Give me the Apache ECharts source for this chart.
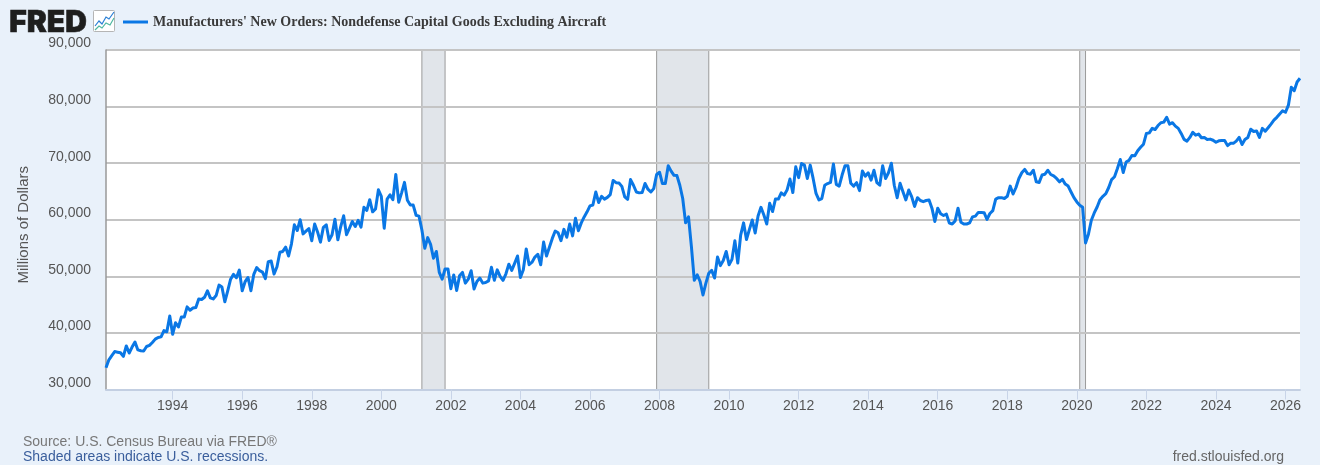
<!DOCTYPE html>
<html>
<head>
<meta charset="utf-8">
<style>html,body{margin:0;padding:0;background:#e9f1fa;}#c{width:1320px;height:465px;}</style>
<script src="https://cdn.jsdelivr.net/npm/echarts@6/dist/echarts.min.js"></script>
</head>
<body>
<div id="c"></div>
<script>
var seriesName = "Manufacturers' New Orders: Nondefense Capital Goods Excluding Aircraft";
var firstYear = 1992, firstMonth = 2;
var orders = [
33840,35250,36000,36700,36600,36500,35850,37700,36450,37500,38400,
37000,36850,36800,37600,37800,38300,38900,39200,39300,40400,40200,43000,
39750,41800,41050,42800,42800,44600,44000,44400,44500,46000,45900,46300,
47450,46200,46000,46600,48450,48100,45500,47450,49500,50350,49750,51100,
47450,49050,49800,47450,50350,51550,51000,50750,49600,52600,52700,50400,
51700,54250,54400,55150,53600,55750,59100,58100,60000,57500,58000,58450,
56300,59250,57850,56050,58650,59100,56350,57350,60100,56450,58800,60700,
57350,58500,59700,58800,59900,58700,62200,61650,63550,61400,61900,65300,
64150,58500,63650,64400,63550,68000,63100,64750,66600,63450,62600,62600,
60800,60650,58200,54950,56850,55650,53200,54400,50700,49500,51300,51300,
47800,50250,47500,50100,50700,48800,49500,51000,47750,49100,49700,48800,
48900,49200,51600,49300,51150,50000,49300,50450,52150,51050,52300,53600,
49800,51150,54850,52050,52500,53400,53900,52050,56050,53600,55150,56700,
58000,57700,56300,58300,56900,59250,57150,60250,58050,59450,60500,61400,
62450,62600,64900,63050,64150,63650,63950,64450,66950,66550,66500,65900,
64050,63600,67100,66100,64900,64750,64800,66400,65400,64900,65500,68000,
68400,66400,66400,69550,68600,67850,67800,66100,63750,59450,60500,55250,
49300,50250,49100,46700,48800,50550,51050,49700,53400,51900,52800,54400,
52050,53000,56300,52350,57300,59450,56500,58250,59950,57650,60650,62200,
60850,59250,62900,61450,63650,63650,64750,64350,65250,67200,64800,69350,
67450,69950,69650,67300,69650,67300,64650,63500,63750,66100,66400,66600,
69850,66250,65950,67900,69550,69550,66450,65950,66550,65150,68600,67700,
68300,67000,68750,66550,66100,69550,67300,68300,70000,66100,63900,66450,
64950,63500,65250,64100,62350,63900,63400,63200,63400,63500,62050,59700,
62050,61050,60750,61000,59400,59250,59800,62050,59550,59250,59250,59450,
60500,60650,61300,61300,61250,60050,61100,61600,63650,63900,63900,63750,
64150,65950,64550,65700,67300,68300,68900,68150,68050,68750,66700,66600,
67900,68050,68750,68000,67750,67300,66700,67150,66300,65950,64900,63900,
63150,62550,62200,55900,57450,59900,61200,62250,63550,64150,64600,65700,
67100,67600,69050,70650,68350,70200,70500,71350,71300,72200,72800,73350,
75250,75350,76150,75950,76650,77150,77250,78100,76900,77150,76550,76150,
75250,74200,73900,74550,75450,74950,75150,74500,74550,74200,74250,74050,
73700,73950,74000,74000,73100,73500,73500,73900,74550,73300,74200,74550,
76000,75600,75700,74550,76150,75650,76250,76900,77600,78100,78700,79250,
79000,80250,83400,82800,84350,85000
];
var recessions = [["2001-03","2001-11"],["2007-12","2009-06"],["2020-02","2020-04"]];
var yMin = 30000, yMax = 90000, yStep = 10000;
var labelEveryYears = 2;
var sourceText = "Source: U.S. Census Bureau via FRED\u00AE";
var shadeText = "Shaded areas indicate U.S. recessions.";
var siteText = "fred.stlouisfed.org";
var yAxisTitle = "Millions of Dollars";

var months = orders.map(function(_, i){
  var t = firstYear*12 + firstMonth - 1 + i;
  var m = t % 12 + 1;
  return Math.floor(t/12) + "-" + (m < 10 ? "0" : "") + m;
});
function yearTick(i, v){
  return v.slice(5) === "01" && parseInt(v, 10) % labelEveryYears === 0;
}
var chart = echarts.init(document.getElementById("c"), null, {renderer:"canvas"});
chart.setOption({
  animation:false,
  backgroundColor:"#e9f1fa",
  textStyle:{fontFamily:"'Liberation Sans',Arial,sans-serif"},
  grid:{left:106,right:20,top:50,height:339.5,show:true,backgroundColor:"#ffffff",borderWidth:0},
  legend:{
    left:118,top:10,itemWidth:25,itemHeight:3,itemGap:0,padding:[5,5,5,5],
    icon:"rect",
    data:[seriesName],
    textStyle:{fontFamily:"'Liberation Serif',serif",fontWeight:"bold",fontSize:14,color:"#3a3a3a"}
  },
  xAxis:{
    type:"category",data:months,boundaryGap:false,z:1,
    axisLine:{lineStyle:{color:"#c3cfe2",width:2}},
    axisTick:{interval:yearTick,length:10,lineStyle:{color:"#c8d4e8",width:1}},
    axisLabel:{interval:yearTick,margin:10,fontSize:14,color:"#555555",hideOverlap:false,showMaxLabel:true,showMinLabel:true,
      fontFamily:"'Liberation Sans',Arial,sans-serif",
      formatter:function(v){return v.slice(0,4);}},
    splitLine:{show:false}
  },
  yAxis:{
    type:"value",min:yMin,max:yMax,interval:yStep,z:1,
    name:yAxisTitle,nameLocation:"middle",nameGap:75,
    nameTextStyle:{fontSize:15,color:"#555555",padding:[0,10,0,0],fontFamily:"'Liberation Sans',Arial,sans-serif"},
    axisLine:{show:true,lineStyle:{color:"#999999",width:1.5}},
    axisTick:{show:false},
    axisLabel:{margin:15,fontSize:14,color:"#555555",verticalAlign:"bottom",lineHeight:13,
      fontFamily:"'Liberation Sans',Arial,sans-serif",
      formatter:function(v){return v.toLocaleString("en-US");}},
    splitLine:{lineStyle:{color:"#c4c4c4",width:2}}
  },
  series:[
    {
      type:"line",name:"recessions",data:[],silent:true,z:0,showSymbol:false,
      markArea:{silent:true,z:0,
        itemStyle:{color:"#e1e5ea",borderColor:"#9a9a9a",borderWidth:1},
        label:{show:false},
        data:recessions.map(function(r){return [{xAxis:r[0]},{xAxis:r[1]}];})}
    },
    {
      type:"line",name:seriesName,data:orders,z:3,showSymbol:false,symbol:"none",
      smooth:false,clip:true,
      lineStyle:{color:"#0a77e5",width:3,join:"round"},
      itemStyle:{color:"#0a77e5"}
    }
  ],
  graphic:[
    {type:"text",left:9,top:8,z:10,style:{text:"FRED",font:"900 30px Inter,Roboto,'Liberation Sans',sans-serif",fill:"#1e1e1e",stroke:"#1e1e1e",lineWidth:0.6}},
    {type:"rect",z:10,shape:{x:93.5,y:10.5,width:21,height:21,r:1},style:{fill:"#ffffff",stroke:"#b5b5b5",lineWidth:1}},
    {type:"polyline",z:11,shape:{points:[[95,26],[99,21],[102,24],[106,17],[109,19],[114,12]]},style:{fill:null,stroke:"#2a7fd5",lineWidth:1.2}},
    {type:"polyline",z:11,shape:{points:[[95,30],[99,26],[102,28],[106,23],[110,25],[114,18]]},style:{fill:null,stroke:"#4fb7a0",lineWidth:1.2}},
    {type:"text",left:23,top:435,z:10,style:{text:sourceText,font:"14px 'Liberation Sans',Arial,sans-serif",fill:"#777777"}},
    {type:"text",left:23,top:450,z:10,style:{text:shadeText,font:"14px 'Liberation Sans',Arial,sans-serif",fill:"#3a5e9c"}},
    {type:"text",right:36,top:450,z:10,style:{text:siteText,font:"14px 'Liberation Sans',Arial,sans-serif",fill:"#666666"}}
  ]
});
</script>
</body>
</html>
